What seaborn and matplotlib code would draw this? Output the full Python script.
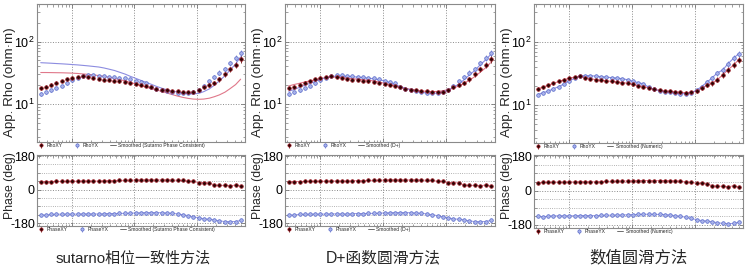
import numpy as np
import pandas as pd
import seaborn as sns
import matplotlib.pyplot as plt
from matplotlib.lines import Line2D
from matplotlib.ticker import LogLocator, MultipleLocator, FixedLocator, NullFormatter

sns.set_style("ticks")
plt.rcParams['font.family'] = ['Liberation Sans', 'Noto Sans CJK SC', 'DejaVu Sans']

# log10 of period (s)
log_period = [-2.50, -2.42, -2.33, -2.25, -2.16, -2.08, -2.00, -1.91, -1.83, -1.74,
              -1.66, -1.57, -1.49, -1.41, -1.32, -1.24, -1.15, -1.07, -0.98, -0.90,
              -0.82, -0.73, -0.65, -0.56, -0.48, -0.40, -0.31, -0.23, -0.14, -0.06,
              0.03, 0.11, 0.20, 0.28, 0.36, 0.45, 0.53, 0.62, 0.70]

rho_xy = [18.0, 19.0, 20.5, 22.0, 23.5, 25.0, 26.5, 27.5, 28.5, 27.0,
          26.0, 25.0, 24.5, 24.0, 23.5, 23.0, 22.5, 22.0, 21.0, 20.0,
          19.5, 18.5, 17.5, 17.0, 16.5, 16.3, 16.0, 15.7, 15.5, 15.8,
          16.5, 18.5, 20.5, 22.0, 25.0, 30.0, 36.0, 43.0, 52.0]
rho_yx = [14.5, 15.5, 16.5, 18.0, 19.5, 21.5, 24.0, 26.5, 28.5, 29.0,
          29.0, 28.5, 28.0, 27.5, 27.0, 26.5, 26.0, 25.0, 23.5, 22.5,
          21.5, 19.0, 17.5, 16.8, 16.2, 15.8, 15.2, 15.0, 15.0, 15.5,
          17.0, 19.5, 23.0, 27.0, 32.0, 36.0, 45.0, 55.0, 65.0]
rho_err_pct = [6, 6, 5, 5, 5, 5, 5, 4, 4, 4, 4, 4, 4, 4, 4, 4, 4, 4, 4, 4,
               4, 4, 4, 4, 4, 4, 4, 4, 5, 5, 6, 6, 7, 8, 9, 10, 10, 11, 12]

phase_xy = [42, 43, 43, 44, 44, 44, 45, 45, 46, 46, 46, 45, 47, 48, 48, 49, 50, 50, 51, 52,
            52, 52, 51, 52, 52, 51, 50, 49, 45, 44, 37, 38, 35, 25, 22, 23, 20, 25, 18]
phase_yx = [-135, -138, -133, -133, -132, -132, -132, -132, -131, -131,
            -131, -132, -130, -129, -129, -128, -128, -127, -126, -125,
            -124, -124, -124, -125, -126, -128, -131, -135, -140, -146,
            -152, -157, -160, -163, -168, -172, -173, -172, -166]
phase_err = [3, 3, 3, 3, 3, 3, 3, 3, 3, 3, 3, 3, 3, 3, 3, 3, 3, 3, 3, 3,
             3, 3, 3, 3, 3, 3, 3, 3, 3, 3, 4, 4, 4, 4, 5, 5, 5, 5, 6]

# smoothed curves
sutarno_xy = [32.0, 32.0, 31.9, 31.8, 31.7, 31.5, 31.3, 30.9, 30.4, 29.9,
              29.3, 28.6, 27.8, 26.9, 25.8, 24.7, 23.5, 22.2, 21.0, 19.8,
              18.7, 17.7, 16.8, 15.9, 15.0, 14.2, 13.4, 12.8, 12.3, 12.0,
              11.9, 12.0, 12.4, 13.1, 14.0, 15.5, 17.6, 20.5, 25.0]
sutarno_yx = [46.0, 45.6, 45.1, 44.6, 44.1, 43.6, 43.0, 42.4, 41.7, 40.9,
              40.1, 39.2, 37.9, 36.3, 34.5, 32.4, 30.2, 27.9, 25.8, 24.0,
              22.3, 20.7, 19.2, 17.9, 16.9, 16.1, 15.6, 15.1, 14.7, 14.5,
              14.8, 15.8, 17.5, 20.0, 23.5, 28.5, 35.0, 44.0, 57.0]
dplus_xy = [19.5, 20.5, 21.5, 22.5, 23.5, 24.5, 25.5, 26.5, 27.0, 27.0,
            26.5, 26.0, 25.5, 25.0, 24.5, 24.0, 23.5, 22.5, 21.5, 20.5,
            19.5, 18.5, 17.8, 17.2, 16.6, 16.2, 15.9, 15.8, 15.9, 16.3,
            17.0, 18.0, 19.5, 21.5, 24.0, 27.5, 32.0, 38.0, 46.0]
dplus_yx = [16.0, 17.0, 18.5, 20.0, 21.5, 23.0, 25.0, 26.5, 27.5, 28.0,
            28.0, 27.8, 27.5, 27.0, 26.5, 26.0, 25.3, 24.5, 23.5, 22.0,
            20.5, 19.0, 17.8, 16.8, 16.0, 15.4, 15.0, 14.8, 15.0, 15.6,
            16.8, 18.5, 21.0, 24.5, 29.0, 34.5, 42.0, 51.0, 62.0]

panel_titles = ['sutarno相位一致性方法', 'D+函数圆滑方法', '数值圆滑方法']
smooth_names = ['Smoothed (Sutarno Phase Consistent)', 'Smoothed (D+)', 'Smoothed (Numeric)']
smooth_rho = [(sutarno_xy, sutarno_yx), (dplus_xy, dplus_yx), (rho_xy, rho_yx)]

period = 10 ** np.array(log_period)
df = pd.DataFrame({'period': period, 'rho_xy': rho_xy, 'rho_yx': rho_yx,
                   'phase_xy': phase_xy, 'phase_yx': phase_yx})
rho_xy_err = np.array(rho_xy) * np.array(rho_err_pct) / 100
rho_yx_err = np.array(rho_yx) * np.array(rho_err_pct) / 100

RED_FACE, RED_EDGE, RED_LINE = '#2a0404', '#a01822', '#e0788a'
BLUE_FACE, BLUE_EDGE, BLUE_LINE = '#aab4ea', '#5566c8', '#8c8ce0'

W, H = 746, 269
fig = plt.figure(figsize=(W / 100, H / 100), dpi=100)

# pixel boxes: (x0, x1, rho_top, rho_bottom, phase_top, phase_bottom)
boxes = [(37, 245, 4, 142, 155, 226),
         (285, 495, 4, 142, 155, 226),
         (534, 743, 4, 143, 155, 228)]
title_x = [133, 383, 638]
title_size = [10.8, 11.3, 11.8]


def add_ax(x0, x1, y0, y1):
    return fig.add_axes([x0 / W, 1 - y1 / H, (x1 - x0) / W, (y1 - y0) / H])


def style_ax(ax):
    ax.set_xscale('log')
    ax.set_xlim(10 ** -2.56, 10 ** 0.77)
    ax.xaxis.set_major_locator(FixedLocator([1e-2, 1e-1, 1e0]))
    ax.xaxis.set_minor_locator(LogLocator(base=10, subs=np.arange(2, 10)))
    ax.xaxis.set_major_formatter(NullFormatter())
    ax.xaxis.set_minor_formatter(NullFormatter())
    ax.tick_params(which='both', direction='in', top=True, right=True,
                   colors='#777777', labelcolor='black', labelsize=9, pad=1.5)
    ax.tick_params(which='major', length=3, width=0.6)
    ax.tick_params(which='minor', length=1.8, width=0.5)
    for s in ax.spines.values():
        s.set_color('#8a8a8a')
        s.set_linewidth(0.8)
    ax.grid(True, which='major', ls=':', lw=0.7, color='#8a8a8a')


for k in range(3):
    x0, x1, rt, rb, pt, pb = boxes[k]
    # apparent resistivity
    ax = add_ax(x0, x1, rt, rb)
    sxy, syx = smooth_rho[k]
    sns.lineplot(x=period, y=sxy, ax=ax, color=RED_LINE, lw=0.8, zorder=2)
    sns.lineplot(x=period, y=syx, ax=ax, color=BLUE_LINE, lw=0.8, zorder=2)
    h1 = ax.errorbar(df['period'], df['rho_xy'], yerr=rho_xy_err, fmt='o', ms=2.6,
                     mfc=RED_FACE, mec=RED_EDGE, mew=0.5, ecolor='#6a1010', elinewidth=0.6,
                     capsize=0, zorder=4)
    h2 = ax.errorbar(df['period'], df['rho_yx'], yerr=rho_yx_err, fmt='o', ms=2.6,
                     mfc=BLUE_FACE, mec=BLUE_EDGE, mew=0.5, ecolor='#7d88d8', elinewidth=0.6,
                     capsize=0, zorder=3)
    style_ax(ax)
    ax.set_yscale('log')
    ax.set_ylim(10 ** 0.39, 10 ** 2.605)
    ax.yaxis.set_major_locator(FixedLocator([10, 100]))
    ax.yaxis.set_minor_locator(LogLocator(base=10, subs=np.arange(2, 10)))
    ax.yaxis.set_minor_formatter(NullFormatter())
    ax.grid(True, which='major', ls=':', lw=0.7, color='#8a8a8a')
    ax.set_ylabel('App. Rho (ohm·m)', fontsize=9.6)
    ax.yaxis.set_label_coords(-21 / (x1 - x0), (rb - 82) / (rb - rt))
    ax.set_xlabel('')
    hl = Line2D([], [], color='#555555', lw=0.6)
    ax.legend([h1, h2, hl], ['RhoXY', 'RhoYX', smooth_names[k]], loc='upper left',
              bbox_to_anchor=(0.0, -0.005), ncol=3, fontsize=3.6, frameon=False,
              handlelength=1.2, handletextpad=0.6, columnspacing=2.2, borderaxespad=0,
              borderpad=0.1, markerscale=0.9)

    # phase
    ax = add_ax(x0, x1, pt, pb)
    sns.lineplot(x=period, y=phase_xy, ax=ax, color=RED_LINE, lw=0.6, zorder=2)
    sns.lineplot(x=period, y=phase_yx, ax=ax, color=BLUE_LINE, lw=0.6, zorder=2)
    h1 = ax.errorbar(df['period'], df['phase_xy'], yerr=phase_err, fmt='o', ms=2.6,
                     mfc=RED_FACE, mec=RED_EDGE, mew=0.5, ecolor='#6a1010', elinewidth=0.6,
                     capsize=0, zorder=4)
    h2 = ax.errorbar(df['period'], df['phase_yx'], yerr=phase_err, fmt='o', ms=2.6,
                     mfc=BLUE_FACE, mec=BLUE_EDGE, mew=0.5, ecolor='#7d88d8', elinewidth=0.6,
                     capsize=0, zorder=3)
    style_ax(ax)
    ax.set_ylim(-196, 186)
    ax.yaxis.set_major_locator(FixedLocator([-180, 0, 180]))
    ax.yaxis.set_minor_locator(MultipleLocator(45))
    ax.set_yticklabels(['-180', '0', '180'])
    ax.grid(True, which='minor', axis='y', ls=':', lw=0.6, color='#9a9a9a')
    ax.set_ylabel('Phase (deg)', fontsize=8.8)
    ax.yaxis.set_label_coords(-21 / (x1 - x0), (pb - 186) / (pb - pt))
    ax.set_xlabel('')
    hl = Line2D([], [], color='#555555', lw=0.6)
    ax.legend([h1, h2, hl], ['PhaseXY', 'PhaseYX', smooth_names[k]], loc='upper left',
              bbox_to_anchor=(0.0, -0.01), ncol=3, fontsize=3.6, frameon=False,
              handlelength=1.2, handletextpad=0.6, columnspacing=2.2, borderaxespad=0,
              borderpad=0.1, markerscale=0.9)

    fig.text(title_x[k] / W, 1 - 258 / H, panel_titles[k], ha='center', va='center',
             fontsize=title_size[k])

fig.savefig('out.png', dpi=100)
